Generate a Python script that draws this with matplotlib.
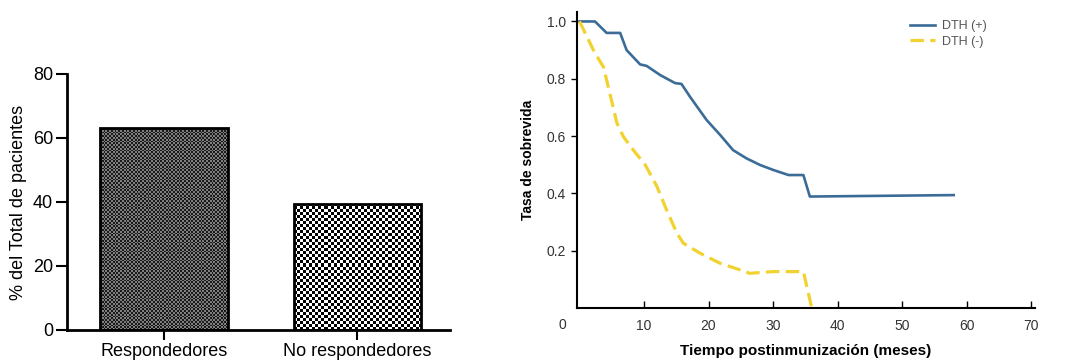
import numpy as np
import matplotlib
matplotlib.use('Agg')
import matplotlib.pyplot as plt
from matplotlib.colors import ListedColormap

plt.rcParams['font.family'] = ['Liberation Sans', 'DejaVu Sans']

# datos del panel izquierdo
categorias = ['Respondedores', 'No respondedores']
porcentajes = [63, 39.5]

# curvas de sobrevida (panel derecho)
meses_pos = [0, 2.4, 4.2, 6.3, 7.3, 9.4, 10.4, 12.5, 14.8, 15.8, 17.1, 19.7, 21.8,
             23.8, 25.9, 28, 30, 32.4, 34.7, 35.7, 58]
tasa_pos = [1.0, 1.0, 0.96, 0.96, 0.90, 0.85, 0.845, 0.813, 0.785, 0.782, 0.738, 0.656,
            0.604, 0.551, 0.522, 0.499, 0.482, 0.464, 0.464, 0.389, 0.394]
meses_neg = [0, 2.4, 3.7, 4.7, 5.8, 6.8, 8.35, 10.2, 12, 13.5, 15.1, 16.1, 18.7, 21.8,
             24.9, 26.4, 30, 34.7, 36]
tasa_neg = [1.0, 0.889, 0.842, 0.749, 0.645, 0.598, 0.551, 0.499, 0.424, 0.342, 0.261,
            0.226, 0.191, 0.156, 0.133, 0.121, 0.127, 0.127, 0.0]

fig = plt.figure(figsize=(10.7, 3.6), dpi=100)

# ---- barras ----
ax1 = fig.add_axes([67/1070, 30/360, 383/1070, 256/360])
ax1.set_xlim(-0.503, 1.48)
ax1.set_ylim(0, 80)
x = np.arange(len(categorias))
bars = ax1.bar(x, porcentajes, width=0.66, facecolor='none', edgecolor='black',
               linewidth=2, zorder=3)

# relleno tipo tablero de ajedrez
estilos = [('#1a1a1a', '#7e7e7e', 1.8), ('#000000', '#ffffff', 3.0)]
for bar, (c_osc, c_cla, celda) in zip(bars, estilos):
    x0, y0 = bar.get_x(), bar.get_y()
    w, h = bar.get_width(), bar.get_height()
    px = ax1.transData.transform([(x0, y0), (x0 + w, y0 + h)])
    nx = int(abs(px[1, 0] - px[0, 0]) / celda)
    ny = int(abs(px[1, 1] - px[0, 1]) / celda)
    tablero = np.add.outer(np.arange(ny), np.arange(nx)) % 2
    img = ax1.imshow(tablero, cmap=ListedColormap([c_osc, c_cla]),
                     extent=(x0, x0 + w, y0, y0 + h), origin='lower',
                     interpolation='nearest', aspect='auto', zorder=2)
    img.set_clip_path(bar)

ax1.set_xlim(-0.503, 1.48)
ax1.set_ylim(0, 80)
ax1.set_yticks([0, 20, 40, 60, 80])
ax1.set_xticks(x)
ax1.set_xticklabels(categorias, fontsize=13)
ax1.tick_params(axis='y', labelsize=13, length=8, width=1.5, pad=2)
ax1.tick_params(axis='x', length=7, width=1.5, pad=2)
ax1.set_ylabel('% del Total de pacientes', fontsize=13, labelpad=4)
for s in ['top', 'right']:
    ax1.spines[s].set_visible(False)
for s in ['left', 'bottom']:
    ax1.spines[s].set_linewidth(2)

# ---- curvas ----
ax2 = fig.add_axes([577/1070, 52/360, 458/1070, 296/360])
ax2.plot(meses_pos, tasa_pos, color='#3b6c98', linewidth=1.9, label='DTH (+)')
ax2.plot(meses_neg, tasa_neg, color='#f2d22e', linewidth=2.3, dashes=(4.2, 2.0),
         label='DTH (-)')
ax2.set_xlim(-0.39, 70.6)
ax2.set_ylim(0, 1.033)
ax2.set_xticks([10, 20, 30, 40, 50, 60, 70])
ax2.set_yticks([0.2, 0.4, 0.6, 0.8, 1.0])
ax2.set_yticklabels(['0.2', '0.4', '0.6', '0.8', '1.0'])
ax2.tick_params(axis='y', direction='out', length=4, width=1, labelsize=10,
                labelcolor='#333333', pad=4)
ax2.tick_params(axis='x', direction='in', length=5, width=1, labelsize=10,
                labelcolor='#333333', pad=8)
ax2.annotate('0', xy=(0, 0), xytext=(-12, -12.5), textcoords='offset points',
             ha='center', va='center', fontsize=10, color='#333333')
ax2.set_xlabel('Tiempo postinmunización (meses)', fontsize=11, fontweight='bold',
               labelpad=8)
ax2.set_ylabel('Tasa de sobrevida', fontsize=10, fontweight='bold', labelpad=8)
for s in ['top', 'right']:
    ax2.spines[s].set_visible(False)
for s in ['left', 'bottom']:
    ax2.spines[s].set_linewidth(1.5)

leg = ax2.legend(loc='upper left', bbox_to_anchor=(910/1070, 340/360),
                 bbox_transform=fig.transFigure, frameon=False, fontsize=9,
                 handlelength=2.0, handletextpad=0.6, borderpad=0,
                 borderaxespad=0, labelspacing=0.3)
for t in leg.get_texts():
    t.set_color('#555555')

fig.savefig('out.png', dpi=100)
